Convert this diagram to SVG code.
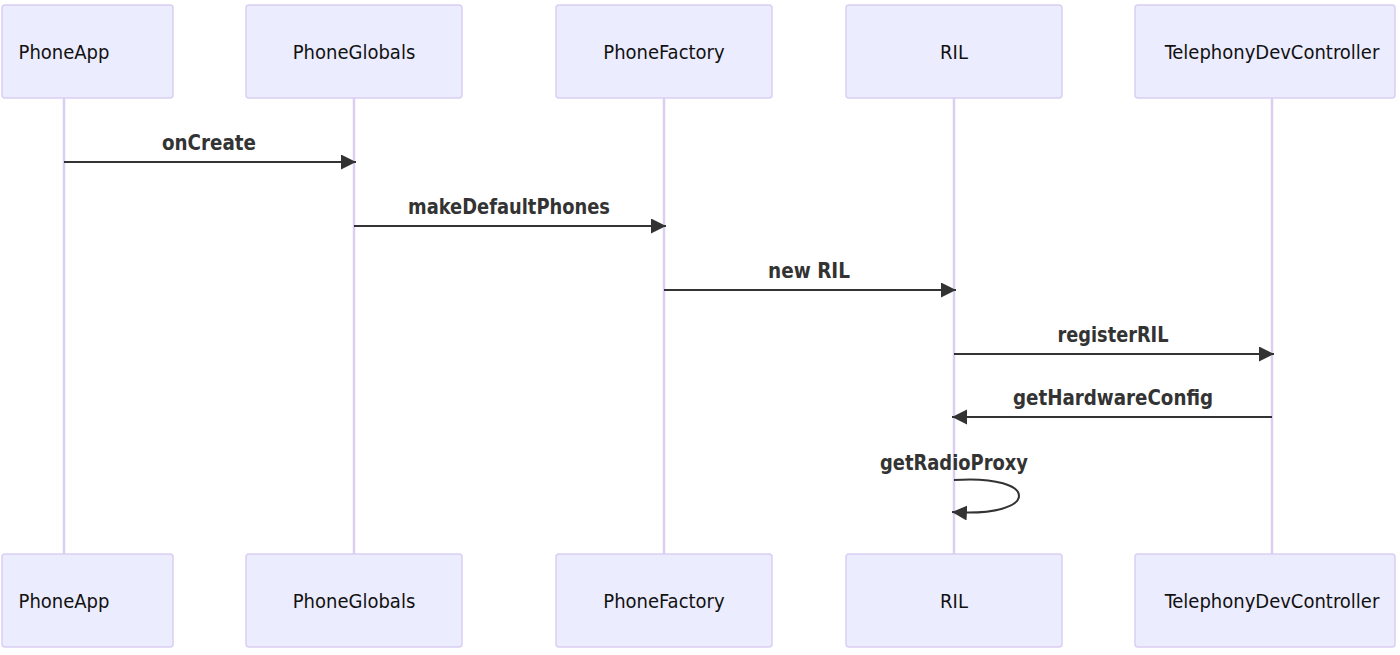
<svg xmlns="http://www.w3.org/2000/svg" width="1400" height="655" viewBox="0 0 1400 655">
<defs>
<style>
.actor{fill:#ECECFF;stroke:#dacef3;stroke-width:1.5}
.atext{font-family:"DejaVu Sans Condensed","DejaVu Sans",sans-serif;font-stretch:condensed;font-size:20px;fill:#111;text-anchor:middle}
.life{stroke:#dacef3;stroke-width:2.5;fill:none}
.msg{stroke:#333;stroke-width:2;fill:none;marker-end:url(#arrow)}
.mtext{font-family:"DejaVu Sans Condensed","DejaVu Sans",sans-serif;font-stretch:condensed;font-weight:bold;font-size:22px;fill:#333;text-anchor:middle}
</style>
<marker id="arrow" markerUnits="userSpaceOnUse" markerWidth="16" markerHeight="16" refX="15" refY="7.5" orient="auto">
<path d="M0,0 L15,7.5 L0,15 z" fill="#333"/>
</marker>
</defs>
<rect width="1400" height="655" fill="#fff"/>
<g id="lifelines">
<line class="life" x1="64" y1="98" x2="64" y2="554"/>
<line class="life" x1="354" y1="98" x2="354" y2="554"/>
<line class="life" x1="664" y1="98" x2="664" y2="554"/>
<line class="life" x1="954" y1="98" x2="954" y2="554"/>
<line class="life" x1="1272" y1="98" x2="1272" y2="554"/>
</g>
<g id="PhoneApp">
<rect class="actor" x="2" y="5" width="171" height="93" rx="3"/>
<text class="atext" x="64" y="59">PhoneApp</text>
<rect class="actor" x="2" y="554" width="171" height="93" rx="3"/>
<text class="atext" x="64" y="608">PhoneApp</text>
</g>
<g id="PhoneGlobals">
<rect class="actor" x="246" y="5" width="216" height="93" rx="3"/>
<text class="atext" x="354" y="59">PhoneGlobals</text>
<rect class="actor" x="246" y="554" width="216" height="93" rx="3"/>
<text class="atext" x="354" y="608">PhoneGlobals</text>
</g>
<g id="PhoneFactory">
<rect class="actor" x="556" y="5" width="216" height="93" rx="3"/>
<text class="atext" x="664" y="59">PhoneFactory</text>
<rect class="actor" x="556" y="554" width="216" height="93" rx="3"/>
<text class="atext" x="664" y="608">PhoneFactory</text>
</g>
<g id="RIL">
<rect class="actor" x="846" y="5" width="216" height="93" rx="3"/>
<text class="atext" x="954" y="59">RIL</text>
<rect class="actor" x="846" y="554" width="216" height="93" rx="3"/>
<text class="atext" x="954" y="608">RIL</text>
</g>
<g id="TelephonyDevController">
<rect class="actor" x="1135" y="5" width="260" height="93" rx="3"/>
<text class="atext" x="1272" y="59">TelephonyDevController</text>
<rect class="actor" x="1135" y="554" width="260" height="93" rx="3"/>
<text class="atext" x="1272" y="608">TelephonyDevController</text>
</g>
<g id="connectors">
<line class="msg" x1="64" y1="162" x2="356" y2="162"/>
<text class="mtext" x="209" y="150" textLength="94" lengthAdjust="spacingAndGlyphs">onCreate</text>
<line class="msg" x1="354" y1="226" x2="666" y2="226"/>
<text class="mtext" x="509" y="214" textLength="202" lengthAdjust="spacingAndGlyphs">makeDefaultPhones</text>
<line class="msg" x1="664" y1="290" x2="956" y2="290"/>
<text class="mtext" x="809" y="278" textLength="82" lengthAdjust="spacingAndGlyphs">new RIL</text>
<line class="msg" x1="954" y1="354" x2="1274" y2="354"/>
<text class="mtext" x="1113" y="342" textLength="111" lengthAdjust="spacingAndGlyphs">registerRIL</text>
<line class="msg" x1="1272" y1="417" x2="952" y2="417"/>
<text class="mtext" x="1113" y="405" textLength="200" lengthAdjust="spacingAndGlyphs">getHardwareConfig</text>
<path class="msg" d="M954,480 C1041,474 1041,518 952,512"/>
<text class="mtext" x="954" y="470" textLength="148" lengthAdjust="spacingAndGlyphs">getRadioProxy</text>
</g>
</svg>
